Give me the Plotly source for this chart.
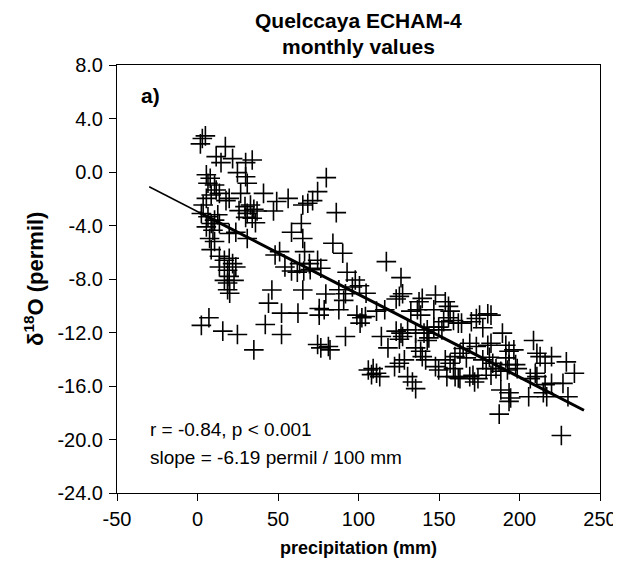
import plotly.graph_objects as go

# precipitation (mm) and delta-18O (permil), monthly values
precip = [
    3, 4.9, 1.8, 17.3, 11.6, 14.6, 21.8, 29.9, 34, 24.8, 29.9, 30.9, 5.5, 7.9, 6.5, 10.6, 11.6, 8.5, 13.6,
    19.7, 17.7, 26.8, 41, 49.2, 56.3, 74.6, 71.5, 68.5, 65.4, 80,
    25.8, 29.5, 32.9, 35, 30.9, 34, 29.9, 37, 47.2, 36,
    5.5, 3.5, 2.4, 6.5, 10.6, 12.6, 8.5, 13.6, 5.5, 9.6, 7.5, 10.6, 8.5, 19.7,
    13.6, 16.7, 19.7, 21.8, 13.6, 18.7, 23.8, 19.7, 16.7, 18.7, 22.7,
    30.9, 23.8, 48.2, 51, 54.3, 58.4, 64.5, 65.4, 66.5, 63.4, 69.5, 74.6, 58.4, 62, 66, 70,
    18.7, 20, 46.2, 65.4, 44.1, 52.2, 62.4, 75.6, 75.6, 7.1, 2.4, 15.7, 24.8, 42.1, 52.2, 35, 74.6, 76.6,
    86.2, 84.1, 90.2, 76.6, 92.9, 98, 117.3, 126.4,
    100.6, 96.2, 104.7, 79.7, 87.8, 91.9, 90.8, 78.7, 87.8, 99, 102.1, 104.3, 101, 111.2, 116.3, 125.4,
    127.4, 123.4, 139.6, 137.6, 147.8, 146.8, 153.9, 155.9, 156.9, 132.5, 136.6, 138.6, 152.9, 155.9,
    159, 162, 146.8, 149.8, 151.8, 142.7, 140.7, 143.7, 135.5, 130.5, 126.4, 123.4, 114.2, 118.3, 125.4,
    127.4, 91.9, 82.3, 81.3, 135.5, 138.6, 139.6, 141.7, 128.5, 125.4, 122.4, 147.8, 149.8, 153.9, 156.9,
    159.9, 159, 154.9, 162, 106.1, 109.1, 111.2, 113.2, 108.1, 130.5, 133.5, 135.5, 142.7,
    180.3, 182.3, 175.2, 173.2, 170.1, 164, 177.2, 189.4, 169.1, 173.2, 165, 180.3, 182.3, 191.5, 196.5,
    193.5, 208.7, 210.8, 212.8, 215.9, 219.9, 229.1, 234.1, 163, 167, 177.2, 181.3, 183.4, 191.5, 193.5,
    197.6, 198.6, 188.4, 192.5, 185.4, 179.3, 182.3, 171.1, 174.2, 169.1, 163, 172.1, 206.7, 210.8, 209.8,
    215.9, 219.9, 227, 214.8, 216.9, 230.1, 188.4, 193.5, 194.5, 193.5, 205.7, 187.4, 226, 160,
]
d18o = [
    2.5, 2.7, 2.1, 1.9, 1.15, 0.7, 1.0, 0.7, 0.9, -0.05, -0.35, -0.84, -0.2, -0.47, -0.84, -0.97, -1.35, -1.72, -1.6,
    -1.97, -2.14, -1.6, -1.6, -2.2, -1.97, -1.47, -2.14, -2.34, -2.47, -0.42,
    -2.89, -2.59, -2.47, -2.79, -3.09, -3.46, -3.39, -2.92, -2.92, -3.8,
    -1.97, -2.47, -3.1, -3.35, -3.6, -3.2, -3.85, -3.85, -4.1, -4.35, -4.97, -5.2, -5.8, -4.6,
    -6.3, -6.6, -6.45, -6.85, -7.1, -7.35, -7.1, -7.8, -8.1, -8.3, -8.1,
    -4.97, -4.5, -6.2, -5.95, -7.1, -4.5, -3.85, -4.97, -5.95, -6.85, -6.85, -6.6, -7.4, -7.5, -7.4, -7.3,
    -8.8, -9.07, -8.82, -8.82, -9.8, -10.55, -10.55, -10.2, -10.7, -10.9, -11.47, -11.9, -12.15, -11.4, -12.15, -13.3, -12.9, -13.15,
    -3.04, -5.33, -6.08, -7.2, -7.5, -8.07, -6.7, -7.9,
    -8.5, -8.6, -9.07, -9.12, -8.8, -9.1, -9.6, -10.3, -10.3, -10.7, -10.9, -10.8, -11.3, -10.4, -10.3, -9.3,
    -9.1, -9.5, -9.45, -9.7, -9.2, -10.3, -9.7, -10.05, -10.4, -10.4, -10.3, -10.7, -11.2, -10.9,
    -11.1, -11.3, -11.6, -11.6, -11.8, -11.8, -12.05, -12.4, -12.05, -11.8, -12.05, -11.9, -12.3, -13.15, -12.5,
    -12.3, -12.3, -13.3, -13.05, -13.15, -13.4, -13.8, -14.05, -14.05, -14.3, -14.55, -14.55, -14.8, -14.05, -14.3,
    -13.8, -14.7, -15.3, -15.4, -14.8, -14.7, -15.05, -15.3, -15.15, -15.3, -15.7, -16.2, -12.6,
    -10.6, -10.7, -10.7, -10.95, -11.2, -11.3, -11.65, -12.05, -12.8, -13.05, -13.2, -12.95, -12.8, -12.95, -13.3,
    -13.4, -12.6, -13.55, -13.8, -14.3, -13.8, -14.2, -15.05, -13.55, -13.9, -14.05, -13.85, -14.3, -13.9, -14.4,
    -14.4, -14.7, -14.9, -14.8, -14.7, -14.7, -15.2, -15.2, -15.45, -15.3, -15.45, -15.7, -15.45, -15.3, -15.05,
    -15.9, -15.8, -15.8, -16.5, -16.8, -16.8, -16.3, -16.5, -16.9, -17.15, -16.8, -18.1, -19.7, -15.3,
]

# regression line: slope -6.19 permil / 100 mm
fit_slope = -0.0619
fit_intercept = -2.96
fit_x_full = [-30, 240]
fit_x_data = [1, 240]

x_ticks = [-50, 0, 50, 100, 150, 200, 250]
y_ticks = [8, 4, 0, -4, -8, -12, -16, -20, -24]

FONT = "Liberation Sans, Arial, sans-serif"


def fit(xs):
    return [fit_intercept + fit_slope * v for v in xs]


fig = go.Figure()
fig.add_trace(go.Scatter(
    x=precip, y=d18o, mode="markers",
    marker=dict(symbol="cross-thin", size=14, line=dict(color="black", width=1.6), color="black"),
    showlegend=False, hoverinfo="x+y",
))
fig.add_trace(go.Scatter(
    x=fit_x_full, y=fit(fit_x_full), mode="lines",
    line=dict(color="black", width=1.5), showlegend=False,
))
fig.add_trace(go.Scatter(
    x=fit_x_data, y=fit(fit_x_data), mode="lines",
    line=dict(color="black", width=3), showlegend=False,
))

fig.update_layout(
    width=621, height=561,
    margin=dict(l=109, r=20, t=57, b=76),
    paper_bgcolor="white", plot_bgcolor="white",
    font=dict(family=FONT, size=20, color="black"),
    xaxis=dict(
        range=[-50, 250], tickvals=x_ticks, ticktext=[str(v) for v in x_ticks],
        ticks="outside", ticklen=7, tickwidth=1, tickcolor="black", ticklabelstandoff=1,
        showline=True, linecolor="black", linewidth=1, mirror=True, showgrid=False, zeroline=False,
        tickfont=dict(size=20),
    ),
    yaxis=dict(
        range=[-24, 8], tickvals=y_ticks, ticktext=[f"{v:.1f}" for v in y_ticks],
        ticks="outside", ticklen=7, tickwidth=1, tickcolor="black", ticklabelstandoff=2,
        showline=True, linecolor="black", linewidth=1, mirror=True, showgrid=False,
        zeroline=False, tickfont=dict(size=20),
    ),
    annotations=[
        dict(text="<b>Quelccaya ECHAM-4</b>", xref="paper", yref="paper", x=0.5, y=1.104,
             xanchor="center", yanchor="middle", showarrow=False, font=dict(size=21)),
        dict(text="<b>monthly values</b>", xref="paper", yref="paper", x=0.5, y=1.043,
             xanchor="center", yanchor="middle", showarrow=False, font=dict(size=21)),
        dict(text="<b>precipitation (mm)</b>", xref="paper", yref="paper", x=0.5, y=-0.128,
             xanchor="center", yanchor="middle", showarrow=False, font=dict(size=18)),
        dict(text="<b>δ<sup>18</sup>O (permil)</b>", xref="paper", yref="paper", x=-0.172, y=0.5,
             xanchor="center", yanchor="middle", textangle=-90, showarrow=False, font=dict(size=22)),
        dict(text="<b>a)</b>", xref="paper", yref="paper", x=0.045, y=0.929,
             xanchor="left", yanchor="middle", showarrow=False, font=dict(size=21)),
        dict(text="r = -0.84, p < 0.001", xref="paper", yref="paper", x=0.065, y=0.149,
             xanchor="left", yanchor="middle", showarrow=False, font=dict(size=19)),
        dict(text="slope = -6.19 permil / 100 mm", xref="paper", yref="paper", x=0.065, y=0.083,
             xanchor="left", yanchor="middle", showarrow=False, font=dict(size=19)),
    ],
)

fig.write_html("out.html")
